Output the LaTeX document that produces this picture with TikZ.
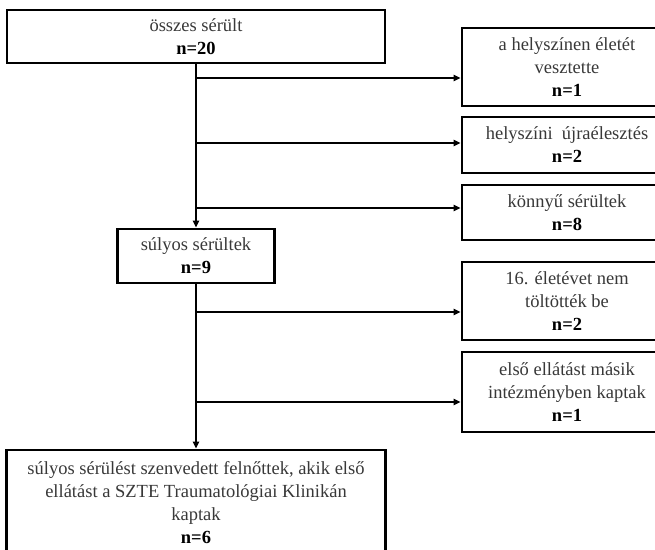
\documentclass[tikz,border=0pt]{standalone}
\usepackage{fontspec}
\setmainfont{Liberation Serif}
\usetikzlibrary{arrows.meta}
\tikzset{
  box/.style={draw, line width=2.6pt, align=center, inner sep=0pt, text=black!78,
    font=\fontsize{18.5}{23}\selectfont},
  sidebox/.style={box, minimum width=210pt},
  flow/.style={line width=2pt, -{Triangle[length=7pt,width=6pt]}},
}
\newcommand{\cnt}[1]{\textbf{\color{black}n=#1}}
\begin{document}
\begin{tikzpicture}[x=1pt,y=-1pt]
  \clip (0,0) rectangle (655,549);
  % main line
  \node[box, minimum width=378pt, minimum height=53pt] (all) at (196,36.5) {összes sérült\\ \cnt{20}};
  \node[box, minimum width=157pt, minimum height=54pt] (severe) at (196,256) {súlyos sérültek\\ \cnt{9}};
  \node[box, minimum width=379pt, minimum height=106pt] (final) at (196,503)
    {súlyos sérülést szenvedett felnőttek, akik első\\ ellátást a SZTE Traumatológiai Klinikán\\ kaptak\\ \cnt{6}};
  % excluded on the right
  \node[sidebox, minimum height=78pt] (died) at (567,67) {a helyszínen életét\\ vesztette\\ \cnt{1}};
  \node[sidebox, minimum height=56pt] (cpr) at (567,145) {helyszíni \ újraélesztés\\ \cnt{2}};
  \node[sidebox, minimum height=55pt] (minor) at (567,212.5) {könnyű sérültek\\ \cnt{8}};
  \node[sidebox, minimum height=78pt] (young) at (567,301) {16. életévet nem\\ töltötték be\\ \cnt{2}};
  \node[sidebox, minimum height=80pt] (other) at (567,392) {első ellátást másik\\ intézményben kaptak\\ \cnt{1}};
  % trunk and branches
  \draw[flow] (all.south) -- (severe.north);
  \draw[flow] (severe.south) -- (final.north);
  \coordinate (b1) at (196,78);
  \coordinate (b2) at (196,143);
  \coordinate (b3) at (196,208);
  \coordinate (b4) at (196,312);
  \coordinate (b5) at (196,402);
  \foreach \b/\n in {b1/died,b2/cpr,b3/minor,b4/young,b5/other}
    \draw[flow] (\b) -- (\b -| \n.west);
\end{tikzpicture}
\end{document}
